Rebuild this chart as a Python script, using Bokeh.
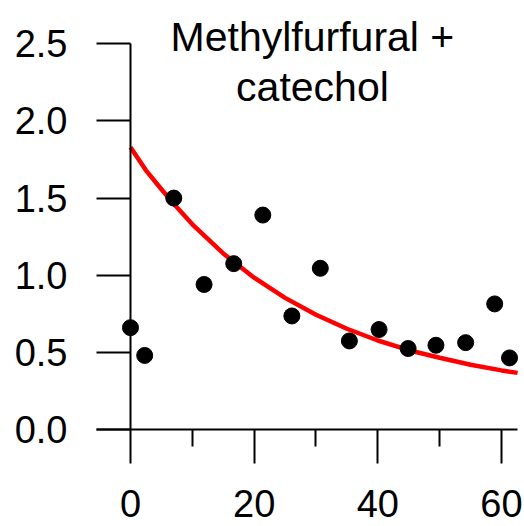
from bokeh.plotting import figure
from bokeh.models import Range1d, FixedTicker, PrintfTickFormatter, Label
from bokeh.embed import file_html
from bokeh.resources import INLINE

# data
time_min = [0, 2.3, 7.0, 11.9, 16.7, 21.4, 26.1, 30.7, 35.4, 40.2, 44.9, 49.4, 54.2, 58.9, 61.3]
signal = [0.66, 0.48, 1.50, 0.94, 1.075, 1.39, 0.736, 1.045, 0.574, 0.648, 0.525, 0.546, 0.563, 0.814, 0.464]

fit_x = [0, 2.5, 5, 7.5, 10, 15, 20, 25, 30, 35, 40, 45, 50, 55, 60, 62.6]
fit_y = [1.83, 1.68, 1.557, 1.44, 1.33, 1.141, 0.984, 0.853, 0.744, 0.653, 0.577, 0.514, 0.465, 0.42, 0.383, 0.367]

x_ticks = [0, 20, 40, 60]
x_minor = [10, 30, 50]
y_ticks = [0.0, 0.5, 1.0, 1.5, 2.0, 2.5]
title_lines = ["Methylfurfural +", "catechol"]

FONT = "Liberation Sans"

# the frame fills the whole canvas; axes are placed at x=0 / y=0
p = figure(width=524, height=526,
           x_range=Range1d(-21.02, 63.72), y_range=Range1d(-0.6287, 2.7806),
           output_backend="svg", toolbar_location=None,
           min_border_left=0, min_border_right=0,
           min_border_top=0, min_border_bottom=0)
p.outline_line_color = None
p.grid.visible = False
p.background_fill_color = "white"
p.border_fill_color = "white"

p.line(fit_x, fit_y, line_width=4.5, color="#ff0000")
p.scatter(time_min, signal, size=16, color="black")

xa = p.xaxis[0]
xa.fixed_location = 0
xa.bounds = (-5.5, 62.59)
xa.ticker = FixedTicker(ticks=x_ticks, minor_ticks=x_minor)
ya = p.yaxis[0]
ya.fixed_location = 0
ya.bounds = (0, 2.5)
ya.ticker = FixedTicker(ticks=y_ticks)
ya.formatter = PrintfTickFormatter(format="%.1f")

for ax in (xa, ya):
    ax.axis_line_width = 2
    ax.axis_line_color = "black"
    ax.major_tick_line_width = 2
    ax.major_tick_line_color = "black"
    ax.minor_tick_line_width = 2
    ax.minor_tick_line_color = "black"
    ax.major_tick_in = 0
    ax.major_tick_out = 34
    ax.minor_tick_in = 0
    ax.minor_tick_out = 17
    ax.major_label_text_font = FONT
    ax.major_label_text_font_size = "38px"
    ax.major_label_text_font_style = "normal"
    ax.major_label_text_color = "black"
ya.major_label_standoff = 29
xa.major_label_standoff = 26

for txt, yy in zip(title_lines, [2.545, 2.217]):
    p.add_layout(Label(x=29.43, y=yy, text=txt, text_align="center",
                       text_baseline="alphabetic", text_font=FONT,
                       text_font_size="41px", text_color="black"))

open("out.html", "w").write(file_html(p, INLINE))
